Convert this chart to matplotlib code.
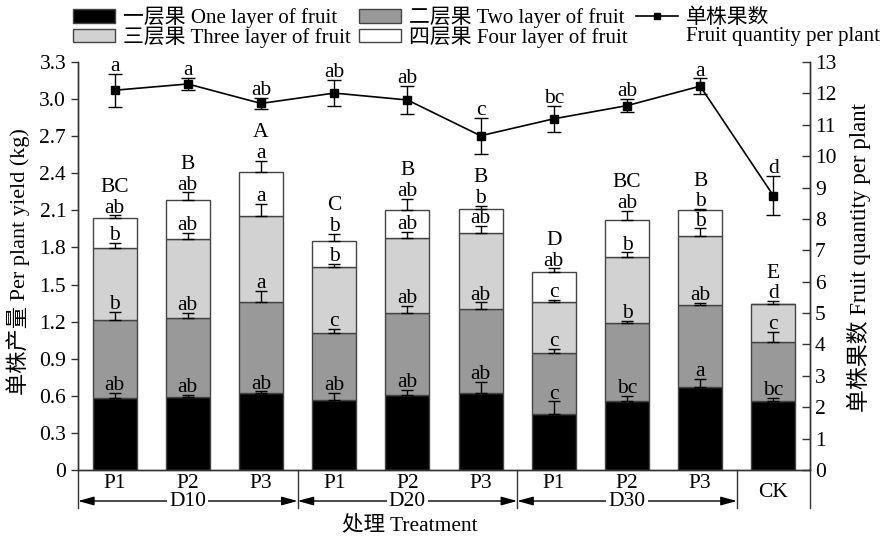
import numpy as np
import matplotlib
matplotlib.use('Agg')
import matplotlib.pyplot as plt
from matplotlib.lines import Line2D
from matplotlib.patches import Patch

plt.rcParams['font.family'] = ['Liberation Serif', 'Noto Sans CJK SC']
plt.rcParams['font.size'] = 15.5

# Treatments along the x axis
sub_labels = ['P1', 'P2', 'P3', 'P1', 'P2', 'P3', 'P1', 'P2', 'P3', 'CK']
groups = ['D10', 'D20', 'D30']

# Yield of each fruit layer (kg per plant)
layer1 = [0.58, 0.59, 0.625, 0.57, 0.605, 0.625, 0.455, 0.56, 0.675, 0.555]
layer2 = [0.63, 0.64, 0.735, 0.54, 0.665, 0.675, 0.49, 0.63, 0.66, 0.48]
layer3 = [0.585, 0.635, 0.695, 0.53, 0.605, 0.615, 0.41, 0.53, 0.555, 0.31]
layer4 = [0.245, 0.315, 0.355, 0.21, 0.23, 0.20, 0.25, 0.305, 0.21, 0.0]

# Upper error of each layer
layer1_err = [0.045, 0.015, 0.01, 0.055, 0.045, 0.09, 0.10, 0.04, 0.06, 0.03]
layer2_err = [0.07, 0.04, 0.09, 0.03, 0.06, 0.055, 0.035, 0.015, 0.015, 0.08]
layer3_err = [0.04, 0.05, 0.10, 0.03, 0.05, 0.06, 0.02, 0.04, 0.065, 0.02]
layer4_err = [0.02, 0.065, 0.09, 0.06, 0.09, 0.02, 0.025, 0.07, 0.01, 0.0]

# Significance letters
layer1_sig = ['ab', 'ab', 'ab', 'ab', 'ab', 'ab', 'c', 'bc', 'a', 'bc']
layer2_sig = ['b', 'ab', 'a', 'c', 'ab', 'ab', 'c', 'b', 'ab', 'c']
layer3_sig = ['b', 'ab', 'a', 'b', 'ab', 'ab', 'c', 'b', 'b', 'd']
layer4_sig = ['ab', 'ab', 'a', 'b', 'ab', 'b', 'ab', 'ab', 'b', '']
total_sig = ['BC', 'B', 'A', 'C', 'B', 'B', 'D', 'BC', 'B', 'E']

# Fruit quantity per plant (right axis)
fruit_count = [12.10, 12.30, 11.68, 12.01, 11.79, 10.65, 11.19, 11.61, 12.23, 8.74]
fruit_err = [0.53, 0.20, 0.17, 0.42, 0.46, 0.57, 0.41, 0.21, 0.25, 0.63]
fruit_sig = ['a', 'a', 'ab', 'ab', 'ab', 'c', 'bc', 'ab', 'a', 'd']

layers = [layer1, layer2, layer3, layer4]
errs = [layer1_err, layer2_err, layer3_err, layer4_err]
sigs = [layer1_sig, layer2_sig, layer3_sig, layer4_sig]
colors = ['#000000', '#999999', '#d2d2d2', '#ffffff']
names = ['一层果 One layer of fruit', '二层果 Two layer of fruit',
         '三层果 Three layer of fruit', '四层果 Four layer of fruit']

x = np.arange(len(sub_labels))

fig = plt.figure(figsize=(8.83, 5.39), dpi=100)
ax = fig.add_axes([78 / 883, 69 / 539, 732 / 883, 408 / 539])
ax2 = ax.twinx()

bottom = np.zeros(len(x))
cap_top = np.zeros(len(x))
for vals, err, sig, col in zip(layers, errs, sigs, colors):
    vals = np.array(vals)
    err = np.array(err)
    ax.bar(x, vals, width=0.6, bottom=bottom, color=col, edgecolor='#444444', linewidth=1, zorder=2)
    top = bottom + vals
    mask = vals > 0
    ax.errorbar(x[mask], top[mask], yerr=[np.zeros(mask.sum()), err[mask]], fmt='none',
                ecolor='black', elinewidth=1, capsize=4, capthick=1, zorder=3)
    for xi, t, e, s in zip(x, top, err, sig):
        if s:
            ax.annotate(s, (xi, t + e), xytext=(0, 2), textcoords='offset points',
                        ha='center', va='baseline', zorder=4)
    cap_top = np.maximum(cap_top, np.where(mask, top + err, 0))
    bottom = top

for xi, c, s in zip(x, cap_top, total_sig):
    ax.annotate(s, (xi, c), xytext=(0, 17), textcoords='offset points',
                ha='center', va='baseline', zorder=4)

# Fruit count line
ax2.errorbar(x, fruit_count, yerr=fruit_err, color='black', marker='s', markersize=6,
             lw=1.2, elinewidth=1, capsize=5, capthick=1, zorder=5)
for xi, v, e, s in zip(x, fruit_count, fruit_err, fruit_sig):
    ax2.annotate(s, (xi, v + e), xytext=(0, 2), textcoords='offset points',
                 ha='center', va='baseline')

# Axes styling
ax.set_xlim(-0.5, 9.5)
ax.set_ylim(0, 3.3)
yt = np.arange(0, 3.31, 0.3)
ax.set_yticks(yt)
ax.set_yticklabels(['0' if v == 0 else f'{v:.1f}' for v in yt])
ax.set_xticks([])
ax2.set_ylim(0, 13)
ax2.set_yticks(np.arange(0, 14, 1))
ax.tick_params(axis='y', direction='out', length=5, width=1, colors='#333333', labelcolor='black')
ax2.tick_params(axis='y', direction='in', length=6, width=1, colors='#333333', labelcolor='black')
for a in (ax, ax2):
    a.spines['top'].set_visible(False)
    for sp in a.spines.values():
        sp.set_color('#333333')
        sp.set_linewidth(1)

ax.set_ylabel('单株产量 Per plant yield (kg)', fontsize=16)
ax.yaxis.set_label_coords(-0.065, 0.51)
ax2.set_ylabel('单株果数 Fruit quantity per plant', fontsize=16.5)
ax2.yaxis.set_label_coords(1.051, 0.52)

# Treatment table below the axis
trans = ax.get_xaxis_transform()
for sx in [-0.5, 2.5, 5.5, 8.5, 9.5]:
    ax.plot([sx, sx], [0, -0.093], transform=trans, color='#333333', lw=1, clip_on=False)
for xi, lab in zip(x, sub_labels):
    yy = -0.054 if lab == 'CK' else -0.032
    ax.text(xi, yy, lab, transform=trans, ha='center', va='center')
for i, g in enumerate(groups):
    x0, x1 = 3 * i - 0.5, 3 * i + 2.5
    ax.annotate('', xy=(x0, -0.076), xytext=(x1, -0.076), xycoords=trans, textcoords=trans,
                arrowprops=dict(arrowstyle='<|-|>,head_length=0.8,head_width=0.22', color='black',
                                lw=1, shrinkA=0, shrinkB=0, mutation_scale=12),
                annotation_clip=False)
    ax.text(3 * i + 1, -0.076, g, transform=trans, ha='center', va='center',
            bbox=dict(facecolor='white', edgecolor='none', pad=1.5))
fig.text(410 / 883, 1 - 525 / 539, '处理 Treatment', ha='center', va='center')

# Legend
handles = [Patch(facecolor=colors[0], edgecolor='#444444'),
           Patch(facecolor=colors[2], edgecolor='#444444'),
           Patch(facecolor=colors[1], edgecolor='#444444'),
           Patch(facecolor=colors[3], edgecolor='#444444'),
           Line2D([], [], color='black', marker='s', markersize=5, lw=1.2),
           Line2D([], [], linestyle='none')]
labels = [names[0], names[2], names[1], names[3], '单株果数', 'Fruit quantity per plant']
fig.legend(handles, labels, ncol=3, loc='upper left', bbox_to_anchor=(73 / 883, 1 - 7 / 539),
           frameon=False, borderpad=0, borderaxespad=0, fontsize=15, handlelength=2.0,
           handleheight=0.6, handletextpad=0.38, columnspacing=0.43, labelspacing=-0.08)

fig.savefig('out.png', dpi=100)
